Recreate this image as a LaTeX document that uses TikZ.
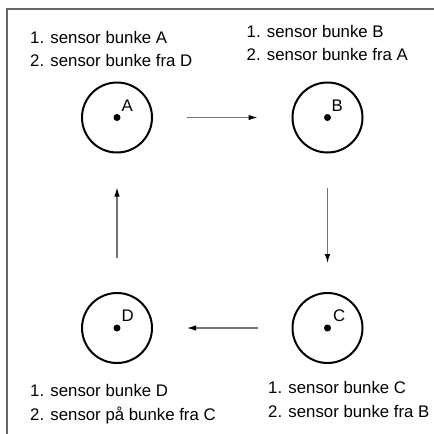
\documentclass[tikz,border=0pt]{standalone}
\usepackage{fontspec}
\setmainfont{Liberation Sans}
\usetikzlibrary{arrows.meta}
\begin{document}
\begin{tikzpicture}[x=1pt,y=-1pt,
  txt/.style={anchor=base west,inner sep=0pt,font=\fontsize{16.8}{20}\selectfont},
  ring/.style={circle,draw=black,line width=2pt,minimum size=70pt,inner sep=0pt},
  dotmark/.style={circle,fill=black,inner sep=0pt,minimum size=7pt},
  flow/.style={draw=black!55,line width=1.1pt,-{Latex[length=9pt,width=5.5pt,black]},shorten <=34pt,shorten >=34pt},
  framel/.style={draw=black!60,line width=1.3pt}]
\useasboundingbox (0,0) rectangle (434,434);
\fill[white] (0,0) rectangle (434,434);
% frame
\coordinate (f1) at (434,9);
\coordinate (f2) at (7,9);
\coordinate (f3) at (7,434);
\draw[framel] (f1) -- (f2) -- (f3);
% circles
\node[ring] (A) at (117,117.5) {};
\node[ring] (B) at (327.5,117.5) {};
\node[ring] (C) at (327.5,328) {};
\node[ring] (D) at (117,328) {};
\foreach \n in {A,B,C,D} \node[dotmark] at (\n) {};
\node[txt] (lA) at (121.5,111.5) {A};
\node[txt] (lB) at (331.5,111.5) {B};
\node[txt] (lC) at (333,321.5) {C};
\node[txt] (lD) at (121.5,321.5) {D};
% arrows
\draw[flow] (A) -- (B);
\draw[flow,shorten >=29pt] (B) -- (C);
\draw[flow] (C) -- (D);
\draw[flow] (D) -- (A);
% texts
\node[txt] (ta1) at (30,43) {1. sensor bunke A};
\node[txt] (ta2) at (30,66) {2. sensor bunke fra D};
\node[txt] (tb1) at (246.5,37) {1. sensor bunke B};
\node[txt] (tb2) at (246.5,60) {2. sensor bunke fra A};
\node[txt] (td1) at (30,396) {1. sensor bunke D};
\node[txt] (td2) at (30,420) {2. sensor på bunke fra C};
\node[txt] (tc1) at (268,393) {1. sensor bunke C};
\node[txt] (tc2) at (268,417) {2. sensor bunke fra B};
\end{tikzpicture}
\end{document}
